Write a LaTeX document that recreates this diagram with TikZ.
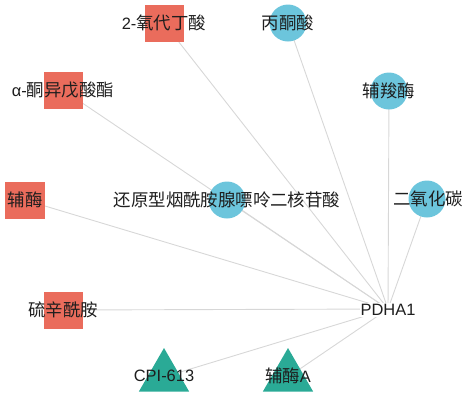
\documentclass[tikz,border=0pt]{standalone}
\usepackage{fontspec}
\setmainfont{Liberation Sans}
\newfontfamily\cjk[Scale=1.06]{Noto Sans CJK SC}
\usetikzlibrary{shapes.geometric,backgrounds}
\definecolor{sqred}{RGB}{234,108,92}
\definecolor{circcyan}{RGB}{108,197,220}
\definecolor{triteal}{RGB}{42,170,150}
\definecolor{edgegray}{RGB}{215,215,215}
\definecolor{txt}{RGB}{30,30,30}
\tikzset{
  sqnode/.style={rectangle, fill=sqred, draw=none, minimum width=39bp, minimum height=37bp, inner sep=0pt},
  circnode/.style={circle, fill=circcyan, draw=none, minimum size=37bp, inner sep=0pt},
  trinode/.style={regular polygon, regular polygon sides=3, fill=triteal, draw=none, minimum size=58bp, inner sep=0pt},
  lbl/.style={text=txt, inner sep=0pt, font=\fontsize{16.5}{18}\selectfont},
  edge/.style={draw=edgegray, line width=0.9bp}
}
\begin{document}
\begin{tikzpicture}[x=1bp,y=-1bp]
\useasboundingbox (0,0) rectangle (462,393);
% shapes
\node[sqnode] (n1) at (164,23) {};
\node[sqnode] (n2) at (63,90) {};
\node[sqnode] (n3) at (25,200) {};
\node[sqnode] (n4) at (63,310) {};
\node[circnode] (c1) at (288,23) {};
\node[circnode] (c2) at (389,91) {};
\node[circnode] (c3) at (227,200) {};
\node[circnode] (c4) at (427,199) {};
\node[trinode] (t1) at (164,377) {};
\node[trinode] (t2) at (288,377) {};
\coordinate (hub) at (388,309);
% edges
\begin{scope}[on background layer]
\foreach \s in {n1,n2,n3,n4,c1,c2,c3,c4,t1,t2}
  \draw[edge] (\s.center) -- (hub);
\end{scope}
% labels
\node[lbl] (l1) at (164,23) {2-{\cjk 氧代丁酸}};
\node[lbl] (l2) at (63,90) {α-{\cjk 酮异戊酸酯}};
\node[lbl] (l3) at (25,200) {{\cjk 辅酶}};
\node[lbl] (l4) at (63,310) {{\cjk 硫辛酰胺}};
\node[lbl] (l5) at (288,23) {{\cjk 丙酮酸}};
\node[lbl] (l6) at (389,91) {{\cjk 辅羧酶}};
\node[lbl] (l7) at (227,200) {{\cjk 还原型烟酰胺腺嘌呤二核苷酸}};
\node[lbl] (l8) at (428,199) {{\cjk 二氧化碳}};
\node[lbl] (l9) at (164,376) {CPI-613};
\node[lbl] (l10) at (288,376) {{\cjk 辅酶}A};
\node[lbl, fill=white, inner sep=1pt] (p) at (388,310) {PDHA1};
\end{tikzpicture}
\end{document}
